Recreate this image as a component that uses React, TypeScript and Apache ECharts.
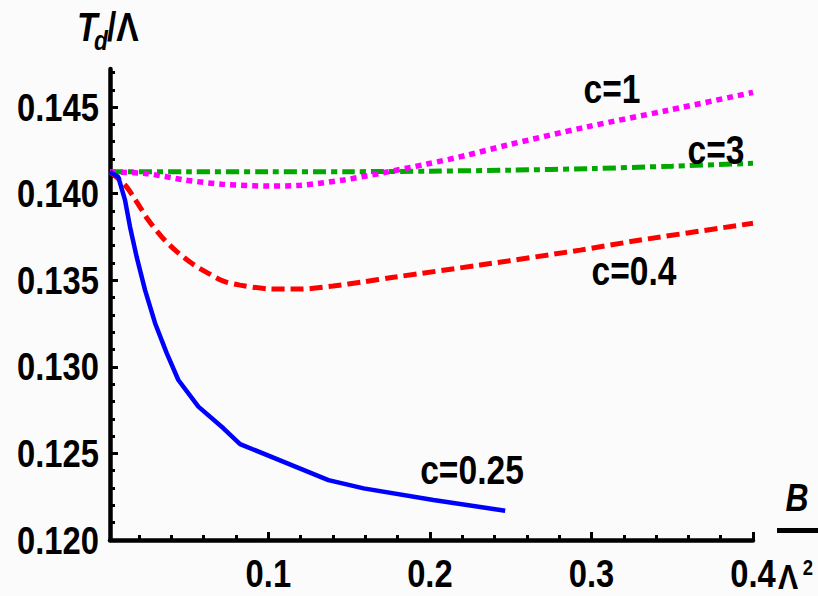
import React, { useEffect, useRef } from "react";
import * as echarts from "echarts";

// T_d/Λ against B/Λ² for four values of c
const c025: [number, number][] = [
  [0.002, 0.14126], [0.0071, 0.14097], [0.0113, 0.13963], [0.0144, 0.13808],
  [0.0185, 0.13635], [0.0237, 0.13443], [0.0299, 0.13252], [0.0371, 0.13079],
  [0.0443, 0.12924], [0.0567, 0.1277], [0.0722, 0.12645], [0.0825, 0.12554],
  [0.1372, 0.12346], [0.159, 0.12298], [0.2022, 0.12231], [0.2466, 0.12169],
];
const c04: [number, number][] = [
  [0.002, 0.14126], [0.0113, 0.1405], [0.0185, 0.13953], [0.0257, 0.13848],
  [0.034, 0.13751], [0.0423, 0.13674], [0.0526, 0.13598], [0.0629, 0.1354],
  [0.0722, 0.13495], [0.0825, 0.13472], [0.099, 0.13451], [0.11, 0.13449],
  [0.1197, 0.13449], [0.1401, 0.13467], [0.159, 0.13491], [0.1774, 0.13517],
  [0.2311, 0.13588], [0.293, 0.13674], [0.3302, 0.13732], [0.4, 0.13829],
];
const c1: [number, number][] = [
  [0.002, 0.14125], [0.0237, 0.14117], [0.0484, 0.14079], [0.0712, 0.14055],
  [0.1011, 0.14044], [0.1197, 0.14048], [0.1465, 0.14079], [0.1712, 0.14121],
  [0.1981, 0.14171], [0.2229, 0.14222], [0.2476, 0.1428], [0.2972, 0.14386],
  [0.3467, 0.1448], [0.4, 0.14585],
];
const c3: [number, number][] = [
  [0.002, 0.14126], [0.05, 0.14126], [0.1, 0.14126], [0.15, 0.14127],
  [0.2, 0.1413], [0.25, 0.14136], [0.3, 0.14145], [0.35, 0.14159], [0.4, 0.14175],
];

const xMajorTicks = [0.1, 0.2, 0.3, 0.4];
const xMinorTicks = [0.02, 0.04, 0.06, 0.08, 0.12, 0.14, 0.16, 0.18, 0.22, 0.24, 0.26, 0.28, 0.32, 0.34, 0.36, 0.38];
const yMajorTicks = [0.12, 0.125, 0.13, 0.135, 0.14, 0.145];
const yMinorTicks = [
  0.121, 0.122, 0.123, 0.124, 0.126, 0.127, 0.128, 0.129, 0.131, 0.132, 0.133, 0.134,
  0.136, 0.137, 0.138, 0.139, 0.141, 0.142, 0.143, 0.144, 0.146, 0.147,
];
const xTickLabels = ["0.1", "0.2", "0.3", "0.4"];
const yTickLabels = ["0.120", "0.125", "0.130", "0.135", "0.140", "0.145"];

const curveLabels = ["c=1", "c=3", "c=0.4", "c=0.25"];

const FONT = '"Liberation Sans", Arial, sans-serif';
// narrow the glyphs horizontally, like a condensed bold face
const SQUEEZE = 0.84;

export default function App() {
  const ref = useRef<HTMLDivElement>(null);

  useEffect(() => {
    if (!ref.current) return;
    const chart = echarts.init(ref.current, null, { renderer: "svg" });

    const lineSeries = (data: [number, number][], color: string, width: number, type: any, smooth: any) => ({
      type: "line",
      data,
      showSymbol: false,
      symbol: "none",
      smooth,
      xAxisIndex: 0,
      yAxisIndex: 0,
      lineStyle: { color, width, type, cap: "butt" },
      z: 3,
    });

    const tick = (values: number[], length: number) => ({
      show: true,
      inside: true,
      length,
      customValues: values,
      lineStyle: { color: "#000", width: 3 },
    });

    chart.setOption({
      animation: false,
      backgroundColor: "#fbfbfb",
      grid: { left: 110, right: 65, top: 69, bottom: 56, containLabel: false, outerBoundsMode: "none" },
      xAxis: [
        {
          type: "value",
          min: 0.002,
          max: 0.4,
          axisLine: { show: true, onZero: false, lineStyle: { color: "#000", width: 4.5 } },
          axisTick: tick(xMajorTicks, 8),
          axisLabel: { show: false },
          splitLine: { show: false },
        },
        {
          type: "value",
          min: 0.002,
          max: 0.4,
          position: "bottom",
          axisLine: { show: false },
          axisTick: tick(xMinorTicks, 5),
          axisLabel: { show: false },
          splitLine: { show: false },
        },
      ],
      yAxis: [
        {
          type: "value",
          min: 0.12,
          max: 0.1472,
          position: "left",
          axisLine: { show: true, onZero: false, lineStyle: { color: "#000", width: 4.5 } },
          axisTick: tick(yMajorTicks, 8),
          axisLabel: { show: false },
          splitLine: { show: false },
        },
        {
          type: "value",
          min: 0.12,
          max: 0.1472,
          position: "left",
          axisLine: { show: false },
          axisTick: tick(yMinorTicks, 5),
          axisLabel: { show: false },
          splitLine: { show: false },
        },
      ],
      series: [
        lineSeries(c3, "#00a800", 5, [13, 5, 6, 5], 0.3),
        lineSeries(c1, "#ff00ff", 5.5, [6, 5], 0.3),
        lineSeries(c04, "#ff0000", 5, [13, 6], 0.3),
        lineSeries(c025, "#0000ff", 4.5, "solid", false),
      ],
    });

    const text = (t: string, x: number, y: number, size: number, extra: any = {}) => ({
      type: "text",
      x,
      y,
      scaleX: SQUEEZE,
      z: 10,
      style: {
        text: t,
        fill: "#000",
        font: `bold ${size}px ${FONT}`,
        textAlign: "center",
        textVerticalAlign: "middle",
        ...extra,
      },
    });

    const xPx = (v: number) => chart.convertToPixel({ xAxisIndex: 0 }, v) as number;
    const yPx = (v: number) => chart.convertToPixel({ yAxisIndex: 0 }, v) as number;

    chart.setOption({
      graphic: [
        ...xMajorTicks.map((v, i) => text(xTickLabels[i], xPx(v), 573, 39)),
        ...yMajorTicks.map((v, i) => text(yTickLabels[i], 99, yPx(v), 39, { textAlign: "right" })),
        text(curveLabels[0], 612, 89, 40),
        text(curveLabels[1], 716, 150, 40),
        text(curveLabels[2], 634, 271, 40),
        text(curveLabels[3], 472, 470, 40),
        // vertical axis title T_d/Λ
        text("T", 77, 27, 40, { textAlign: "left", font: `italic bold 40px ${FONT}` }),
        text("d", 94, 40, 27, { textAlign: "left", font: `italic bold 27px ${FONT}` }),
        text("/Λ", 107, 27, 40, { textAlign: "left" }),
        // horizontal axis title B over Λ²
        text("B", 797, 497, 38, { font: `italic bold 38px ${FONT}` }),
        { type: "rect", z: 10, shape: { x: 777, y: 528, width: 41, height: 5 }, style: { fill: "#000" } },
        text("Λ", 788, 577, 36),
        text("2", 808, 567, 22),
      ],
    });

    return () => chart.dispose();
  }, []);

  return <div ref={ref} style={{ position: "absolute", left: 0, top: 0, width: 818, height: 596 }} />;
}
